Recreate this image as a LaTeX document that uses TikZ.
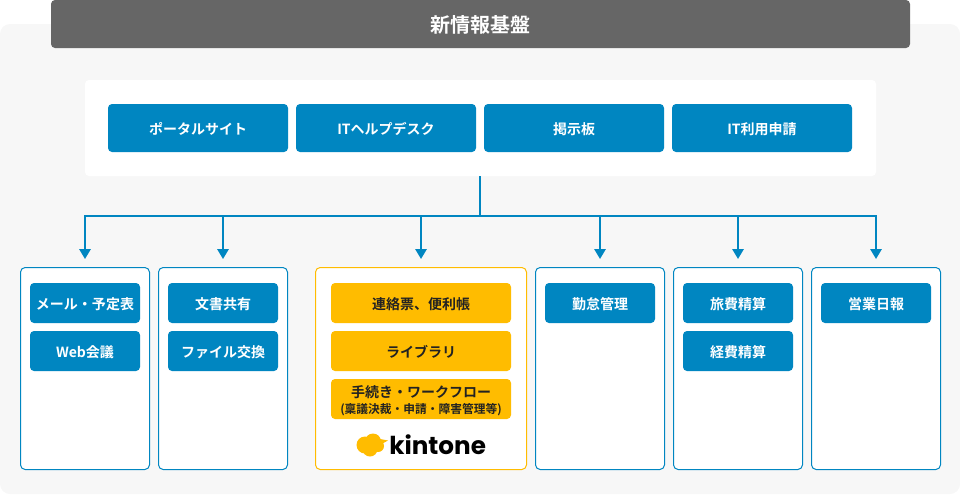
\documentclass[tikz,border=0pt]{standalone}
\usepackage{fontspec}
\setmainfont{Noto Sans CJK JP Medium}[BoldFont={Noto Sans CJK JP Bold}]
\newfontfamily\logofont{Poppins}
\definecolor{bluemain}{HTML}{0086C1}
\definecolor{orangemain}{HTML}{FFBC00}
\definecolor{panelgrey}{HTML}{F7F7F7}
\definecolor{headgrey}{HTML}{666666}
\definecolor{inkdark}{HTML}{222222}
\usetikzlibrary{arrows.meta}
\tikzset{
  panel/.style={fill=panelgrey,rounded corners=7.5pt,inner sep=0pt,minimum width=720pt,minimum height=352.5pt},
  header/.style={fill=headgrey,text=white,font=\fontsize{15pt}{18pt}\selectfont\bfseries,rounded corners=3pt,inner sep=0pt,minimum width=644.25pt,minimum height=36pt,text height=15pt,text depth=2pt},
  whitepanel/.style={fill=white,rounded corners=3pt,inner sep=0pt,minimum width=593.25pt,minimum height=72pt},
  bluebox/.style={fill=bluemain,text=white,font=\fontsize{10.5pt}{13pt}\selectfont\bfseries,rounded corners=3pt,inner sep=0pt,align=center,text height=10.5pt,text depth=1pt},
  top/.style={bluebox,minimum width=135pt,minimum height=36pt},
  small/.style={bluebox,minimum width=82.5pt,minimum height=30pt},
  orangebox/.style={fill=orangemain,text=inkdark,font=\fontsize{10.5pt}{13pt}\selectfont\bfseries,rounded corners=3pt,inner sep=0pt,align=center,minimum width=135pt,minimum height=30pt},
  orangeline/.style={orangebox,text height=10.5pt,text depth=1pt},
  column/.style={draw=bluemain,line width=0.75pt,fill=white,rounded corners=3.5pt,inner sep=0pt,minimum width=96.75pt,minimum height=151.5pt},
  orangecolumn/.style={draw=orangemain,line width=0.75pt,fill=white,rounded corners=3.5pt,inner sep=0pt,minimum width=158.25pt,minimum height=151.5pt},
  conn/.style={draw=bluemain,line width=1.5pt},
  arrowconn/.style={conn,-{Triangle[length=7.5pt,width=8.5pt]}}
}
\begin{document}
\begin{tikzpicture}[x=0.75pt,y=-0.75pt]
\useasboundingbox (0,0) rectangle (960,494);
\node[panel] (bg) at (480,259) {};
\node[header] (head) at (480.5,24) {新情報基盤};
\node[whitepanel] (wp) at (480.5,128) {};
\node[top] (t1) at (198,128) {ポータルサイト};
\node[top] (t2) at (386,128) {ITヘルプデスク};
\node[top] (t3) at (574,128) {掲示板};
\node[top] (t4) at (762,128) {IT利用申請};

\node[column] (c1) at (85,368.5) {};
\node[column] (c2) at (223,368.5) {};
\node[orangecolumn] (c3) at (421,368.5) {};
\node[column] (c4) at (600,368.5) {};
\node[column] (c5) at (738,368.5) {};
\node[column] (c6) at (876,368.5) {};

\coordinate (j) at (480,216);
\coordinate (b1) at (85,216);
\coordinate (b2) at (223,216);
\coordinate (b3) at (421,216);
\coordinate (b4) at (600,216);
\coordinate (b5) at (738,216);
\coordinate (b6) at (876,216);
\coordinate (e1) at (85,259);
\coordinate (e2) at (223,259);
\coordinate (e3) at (421,259);
\coordinate (e4) at (600,259);
\coordinate (e5) at (738,259);
\coordinate (e6) at (876,259);
\draw[conn] (wp.south -| j) -- (j);
\draw[conn,line cap=rect] (b1) -- (b6);
\foreach \k in {1,...,6} \draw[arrowconn] (b\k) -- (e\k);

\node[small] (s11) at (85,303) {メール・予定表};
\node[small] (s12) at (85,351) {Web会議};
\node[small] (s21) at (223,303) {文書共有};
\node[small] (s22) at (223,351) {ファイル交換};
\node[orangeline] (o1) at (421,303) {連絡票、便利帳};
\node[orangeline] (o2) at (421,351) {ライブラリ};
\node[orangebox] (o3) at (421,399) {\fontsize{10.5pt}{12pt}\selectfont\rule{0pt}{11.5pt}手続き・ワークフロー\\[-0.3pt]\fontsize{8.8pt}{10pt}\selectfont (稟議決裁・申請・障害管理等)};
\node[small] (s41) at (600,303) {勤怠管理};
\node[small] (s51) at (738,303) {旅費精算};
\node[small] (s52) at (738,351) {経費精算};
\node[small] (s61) at (876,303) {営業日報};

% kintone logo
\fill[orangemain] (365,445) circle[radius=8.5];
\fill[orangemain] (373,441.5) circle[radius=8];
\fill[orangemain] (370,449) circle[radius=7.5];
\fill[orangemain] (378,446) circle[radius=6];
\fill[orangemain] (375,438) -- (388,440.5) -- (378,446) -- cycle;
\node[inner sep=0pt,text=black,font=\logofont\fontsize{18.5pt}{20pt}\selectfont\bfseries,anchor=base west] (logo) at (389,454.5) {kintone};
\end{tikzpicture}
\end{document}
